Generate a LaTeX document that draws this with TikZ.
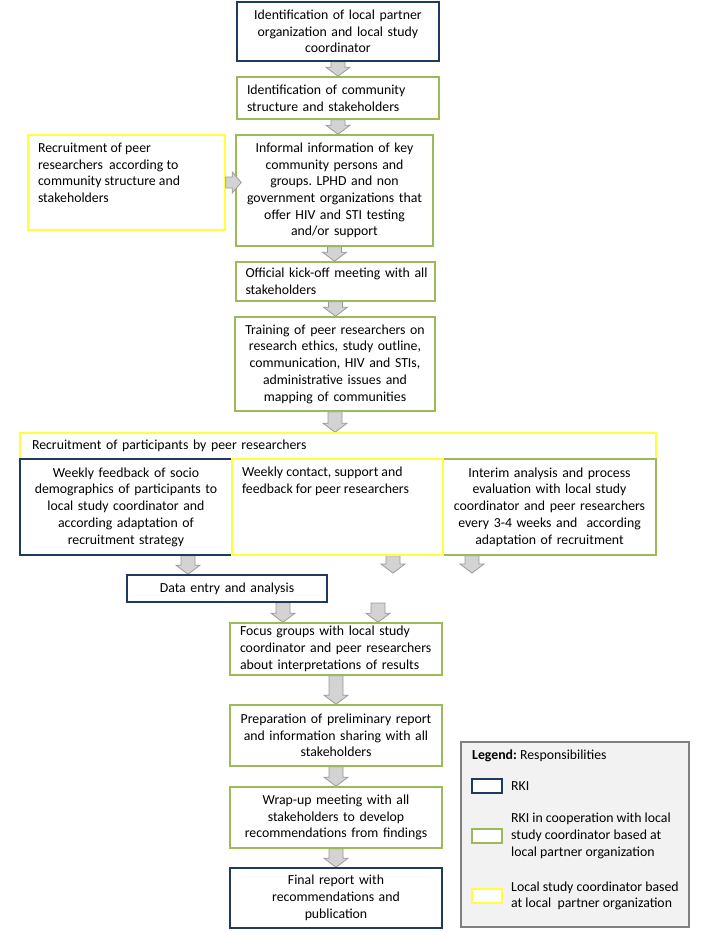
\documentclass[tikz,border=0pt]{standalone}
\usepackage{fontspec}
\setmainfont{Carlito}
\usetikzlibrary{calc,backgrounds}
\definecolor{rkiblue}{HTML}{1F3A5F}
\definecolor{coopgreen}{HTML}{9BBB59}
\definecolor{locyellow}{HTML}{FFFF40}
\definecolor{arrowfill}{HTML}{D3D3D3}
\definecolor{arrowline}{HTML}{9A9A9A}
\definecolor{legendfill}{HTML}{F2F2F2}
\definecolor{legendline}{HTML}{808080}
\newcommand\boxfont{\fontsize{13.8pt}{16.7pt}\selectfont}
\frenchspacing
\tikzset{
  box/.style={draw, line width=1.6pt, fill=white, inner sep=0pt, align=center, font=\boxfont},
  lbox/.style={box, align=left},
  varrow/.style={draw=arrowline, fill=arrowfill, line width=0.8pt,
    to path={let \p1=(\tikztostart), \p2=(\tikztotarget) in
      (\x1-7pt,\y1) -- (\x1+7pt,\y1) -- (\x1+7pt,\y2+9pt) -- (\x1+12pt,\y2+9pt) -- (\x1,\y2)
      -- (\x1-12pt,\y2+9pt) -- (\x1-7pt,\y2+9pt) -- cycle}},
  harrow/.style={draw=arrowline, fill=arrowfill, line width=0.8pt,
    to path={let \p1=(\tikztostart), \p2=(\tikztotarget) in
      (\x1,\y1+5.5pt) -- (\x2-9pt,\y1+5.5pt) -- (\x2-9pt,\y1+10.5pt) -- (\x2,\y1)
      -- (\x2-9pt,\y1-10.5pt) -- (\x2-9pt,\y1-5.5pt) -- (\x1,\y1-5.5pt) -- cycle}},
  swatch/.style={draw, line width=1.5pt, fill=white, minimum width=30pt, minimum height=14pt, inner sep=0pt},
  legtext/.style={anchor=west, align=left, inner sep=0pt, font=\boxfont}
}
\begin{document}
\begin{tikzpicture}[x=1pt,y=-1pt]
\useasboundingbox (0,0) rectangle (717,932);

% main column
\node[box, draw=rkiblue, minimum width=202pt, minimum height=59pt, text width=192pt] (b1) at (338,31.5)
  {Identification of local partner\\organization and local study\\coordinator};
\node[lbox, draw=coopgreen, minimum width=202pt, minimum height=42pt, text width=182pt] (b2) at (338,98)
  {Identification of community\\structure and stakeholders};
\node[box, draw=locyellow, minimum width=197pt, minimum height=95pt] (b3) at (126.5,182.5)
  {\begin{minipage}[c][79pt][t]{177pt}\raggedright Recruitment of peer\\researchers\ \ according to\\community structure and\\stakeholders\end{minipage}};
\node[box, draw=coopgreen, minimum width=197pt, minimum height=111pt, text width=190pt] (b4) at (334.5,190.5)
  {Informal information of key\\community persons and\\groups. LPHD and non\\government organizations that\\offer HIV and STI testing\\and/or support};
\node[lbox, draw=coopgreen, minimum width=199pt, minimum height=39pt, text width=180pt] (b5) at (335.5,281.5)
  {\mbox{Official kick-off meeting with all}\\stakeholders};
\node[box, draw=coopgreen, minimum width=200pt, minimum height=94pt, text width=192pt] (b6) at (335,364)
  {Training of peer researchers on\\research ethics, study outline,\\communication, HIV and STIs,\\administrative issues and\\mapping of communities};

% recruitment block
\node[lbox, draw=locyellow, minimum width=636pt, minimum height=26pt, text width=612pt] (b7) at (338,446)
  {Recruitment of participants by peer researchers};
\node[box, draw=rkiblue, minimum width=212pt, minimum height=96pt, text width=204pt] (b8) at (126,507)
  {Weekly feedback of socio\\demographics of participants to\\local study coordinator and\\according adaptation of\\recruitment strategy};
\node[box, draw=coopgreen, minimum width=213pt, minimum height=96pt, text width=205pt] (b10) at (549.5,507)
  {Interim analysis and process\\evaluation with local study\\coordinator and peer researchers\\every\ 3-4 weeks and\ \ according\\adaptation of recruitment};
\node[box, draw=locyellow, minimum width=211pt, minimum height=96pt] (b9) at (337.5,507)
  {\begin{minipage}[c][80pt][t]{191pt}\raggedright Weekly contact, support and\\feedback for peer researchers\end{minipage}};

\node[box, draw=rkiblue, minimum width=200pt, minimum height=27pt, text width=190pt] (b11) at (227,588.5)
  {Data entry and analysis};
\node[lbox, draw=coopgreen, minimum width=212pt, minimum height=52pt, text width=192pt] (b12) at (336,649)
  {Focus groups with local study\\coordinator and peer researchers\\about interpretations of results};
\node[box, draw=coopgreen, minimum width=212pt, minimum height=61pt, text width=204pt] (b13) at (336,735.5)
  {Preparation of preliminary report\\and information sharing with all\\stakeholders};
\node[box, draw=coopgreen, minimum width=212pt, minimum height=61pt, text width=204pt] (b14) at (336,817.5)
  {Wrap-up meeting with all\\stakeholders to develop\\recommendations from findings};
\node[box, draw=rkiblue, minimum width=212pt, minimum height=60pt, text width=204pt] (b15) at (336,898)
  {Final report with\\recommendations and\\publication};

% free arrow positions
\coordinate (a6x) at (188,0);
\coordinate (a7e) at (393,573);
\coordinate (a8e) at (472,573);
\coordinate (a9x) at (283,0);
\coordinate (a10s) at (378,603);

\begin{scope}[on background layer]
\draw[varrow] (b1.south) to (b2.north);
\draw[varrow] (b2.south) to (b4.north -| b2.south);
\draw[varrow] (b4.south) to (b5.north -| b4.south);
\draw[varrow] (b5.south) to (b6.north -| b5.south);
\draw[varrow] (b6.south) to (b7.north -| b6.south);
\draw[varrow] (b8.south -| a6x) to (b11.north -| a6x);
\draw[varrow] (b9.south -| a7e) to (a7e);
\draw[varrow] (b10.south -| a8e) to (a8e);
\draw[varrow] (b11.south -| a9x) to (b12.north -| a9x);
\draw[varrow] (a10s) to (b12.north -| a10s);
\draw[varrow] (b12.south) to (b13.north);
\draw[varrow] (b13.south) to (b14.north);
\draw[varrow] (b14.south) to (b15.north);
\end{scope}
\draw[harrow] (b3.east) to ($(b4.west)+(6,0)$);

% legend
\node[draw=legendline, fill=legendfill, line width=1.5pt, minimum width=228pt, minimum height=185pt, inner sep=0pt] (legend) at (575,834.5) {};
\node[legtext] (legtitle) at (472,756) {\textbf{Legend:} Responsibilities};
\node[swatch, draw=rkiblue] (s1) at (487,786) {};
\node[legtext] (t1) at (511,786) {RKI};
\node[swatch, draw=coopgreen] (s2) at (487,836) {};
\node[legtext] (t2) at (511,836) {RKI in cooperation with local\\study coordinator based at\\local partner organization};
\node[swatch, draw=locyellow] (s3) at (487,896) {};
\node[legtext] (t3) at (511,896) {Local study coordinator based\\at local\ \ partner organization};
\end{tikzpicture}
\end{document}
